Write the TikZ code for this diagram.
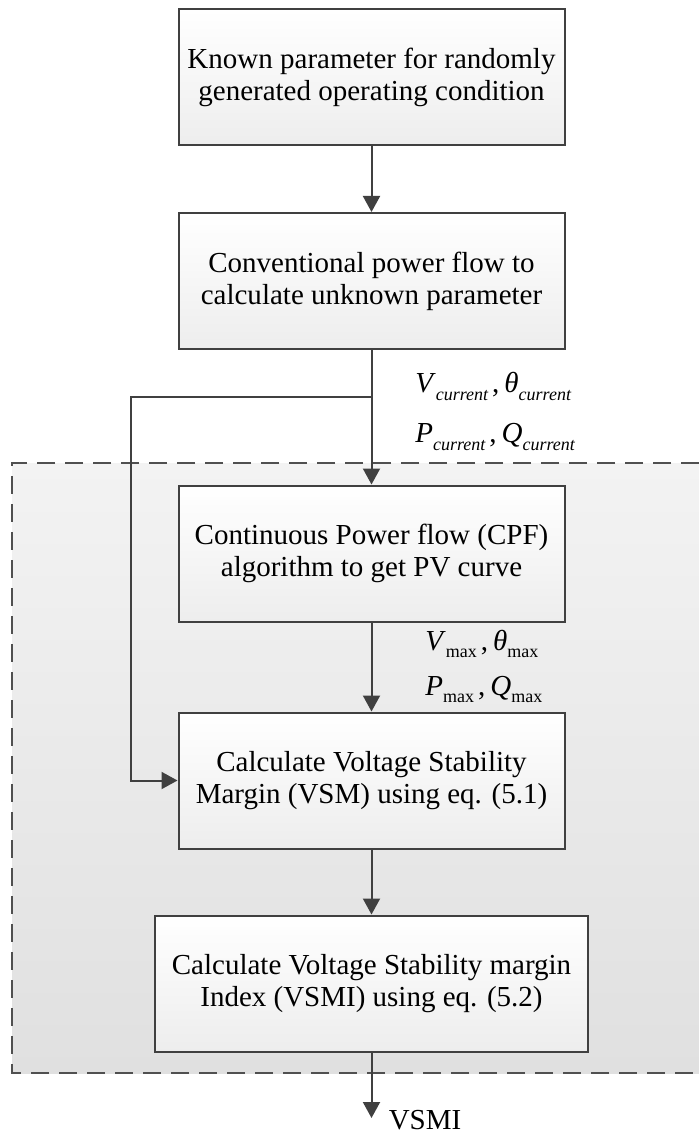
\documentclass[tikz,border=0pt]{standalone}
\usepackage{fontspec}
\setmainfont{Liberation Serif}
\usetikzlibrary{arrows.meta}
\definecolor{edge}{RGB}{64,64,64}
\definecolor{panelline}{RGB}{80,80,80}
\definecolor{paneltop}{RGB}{243,243,243}
\definecolor{panelbot}{RGB}{224,224,224}
\newcommand{\subcur}[1]{\textit{#1}\raisebox{-4pt}{\fontsize{9}{9}\selectfont\itshape current}}
\newcommand{\submax}[1]{\textit{#1}\raisebox{-3.5pt}{\fontsize{9}{9}\selectfont max}}
\newcommand{\sep}{\hspace{2pt},\hspace{2.5pt}}

\begin{document}
\begin{tikzpicture}[
  x=0.5pt, y=-0.5pt,
  font=\fontsize{14.5}{16}\selectfont,
  stage/.style={draw=edge, line width=1pt, top color=white, bottom color=black!7,
                align=center, inner sep=0pt, minimum width=193pt, minimum height=68pt},
  ar/.style={-{Triangle[length=8pt,width=8.5pt]}, draw=edge, line width=1pt},
  lbl/.style={anchor=base west, inner sep=0pt},
]
\useasboundingbox (0,0) rectangle (699,1138);

% shaded panel round the VSM part
\fill[top color=paneltop, bottom color=panelbot] (12,463) rectangle (699,1073);
\draw[panelline, line width=1pt, dash pattern=on 9pt off 5pt]
  (699,463) -- (12,463) -- (12,1073) -- (699,1073);

\node[stage] (known) at (371.5,77.5) {Known parameter for randomly\\generated operating condition};
\node[stage] (conv)  at (371.5,281)  {Conventional power flow to\\calculate unknown parameter};
\node[stage] (cpf)   at (371.5,553.5) {Continuous Power flow (CPF)\\algorithm to get PV curve};
\node[stage] (vsm)   at (371.5,780.5) {Calculate Voltage Stability\\Margin (VSM) using eq. (5.1)};
\node[stage, minimum width=216.5pt] (vsmi) at (371.5,983.5) {Calculate Voltage Stability margin\\Index (VSMI) using eq. (5.2)};

\node[lbl] (cur1) at (415,393) {\subcur{V}\sep\subcur{θ}};
\node[lbl] (cur2) at (415,442) {\subcur{P}\sep\subcur{Q}};
\node[lbl] (max1) at (425,650) {\submax{V}\sep\submax{θ}};
\node[lbl] (max2) at (425,695) {\submax{P}\sep\submax{Q}};
\node (out) at (425,1120) {VSMI};

\coordinate (split) at (371.5,397);
\coordinate (fb)    at (131,397);
\coordinate (tip)   at (371.5,1118);

\draw[ar] (known) -- (conv);
\draw[ar] (conv) -- (cpf);
\draw[ar] (split) -- (fb) |- (vsm.west);
\draw[ar] (cpf) -- (vsm);
\draw[ar] (vsm) -- (vsmi);
\draw[ar] (vsmi) -- (tip);

\end{tikzpicture}
\end{document}
